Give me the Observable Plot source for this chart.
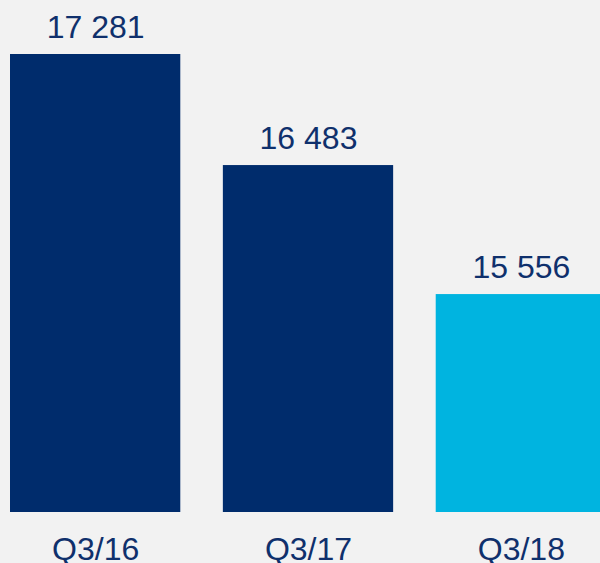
<!DOCTYPE html>
<html>
<head>
<meta charset="utf-8">
<script src="https://cdn.jsdelivr.net/npm/d3@7"></script>
<script src="https://cdn.jsdelivr.net/npm/@observablehq/plot@0.6"></script>
<style>
  html, body { margin: 0; padding: 0; background: #f2f2f2; }
  #chart svg { display: block; }
</style>
</head>
<body>
<div id="chart"></div>
<script>
const categories = ["Q3/16", "Q3/17", "Q3/18"];
const values = [17281, 16483, 15556];
const colors = ["#002c6c", "#002c6c", "#00b4e0"];

const data = categories.map((c, i) => ({category: c, value: values[i], color: colors[i]}));
const fmt = d3.formatLocale({decimal: ",", thousands: " ", grouping: [3], currency: ["", ""]}).format(",");

const chart = Plot.plot({
  width: 600,
  height: 563,
  marginTop: 0,
  marginLeft: 0,
  marginRight: 0,
  marginBottom: 51,
  style: {background: "#f2f2f2", fontFamily: "'Liberation Sans', Arial, sans-serif", color: "#0f306c"},
  x: {domain: categories, range: [10, 606], paddingInner: 0.2, paddingOuter: 0, round: false, label: null},
  y: {domain: [13990, 17281], range: [512, 54], clamp: true, axis: null},
  marks: [
    Plot.barY(data, {x: "category", y: "value", fill: "color"}),
    Plot.text(data, {x: "category", y: "value", text: d => fmt(d.value), lineAnchor: "bottom", dy: -17, fontSize: 32, fill: "#0f306c"}),
    Plot.axisX({tickSize: 0, tickPadding: 25, fontSize: 32, label: null, fill: "#0f306c"})
  ]
});
document.getElementById("chart").append(chart);
</script>
</body>
</html>
